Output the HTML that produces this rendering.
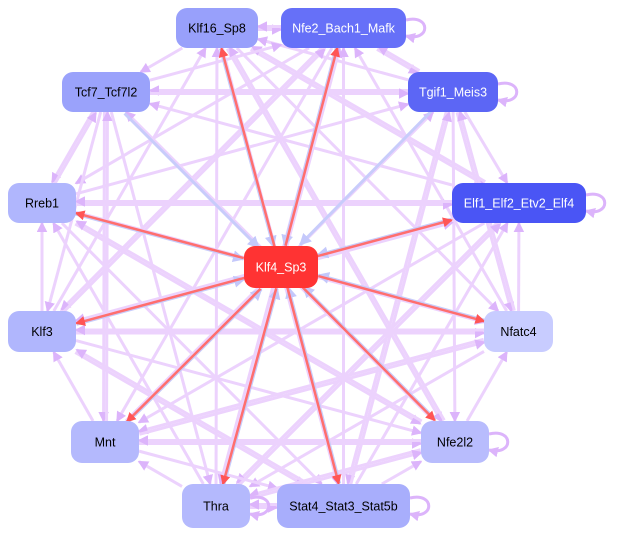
<!DOCTYPE html>
<html><head><meta charset="utf-8"><style>
html,body{margin:0;padding:0;background:#fff;}
svg{display:block;font-family:"Liberation Sans",sans-serif;}
</style></head><body>
<svg id="s" width="618" height="536" viewBox="0 0 618 536" xmlns="http://www.w3.org/2000/svg">
<defs>
<marker id="ap" markerWidth="3.5" markerHeight="3.5" refX="3" refY="1.75" orient="auto" markerUnits="strokeWidth"><path d="M0,0 L3.5,1.75 L0,3.5z" fill="#dcb4fb"/></marker>
<marker id="ar" markerWidth="4" markerHeight="4" refX="3.5" refY="2" orient="auto" markerUnits="strokeWidth"><path d="M0,0 L4,2 L0,4z" fill="#ff5555"/></marker>
<marker id="ab" markerWidth="4" markerHeight="4" refX="3.5" refY="2" orient="auto" markerUnits="strokeWidth"><path d="M0,0 L4,2 L0,4z" fill="#c4c8fb"/></marker>
</defs>
<g id="e"></g>
<g id="n"></g>
</svg>
<script>
var N=[
["Klf16_Sp8",176,8,82,40,"#98a0fb","#000"],
["Nfe2_Bach1_Mafk",281,8,125,40,"#6670f8","#fff"],
["Tgif1_Meis3",408,72,90,40,"#5c66f5","#fff"],
["Tcf7_Tcf7l2",62,72,88,40,"#9aa2fb","#000"],
["Rreb1",8,183,68,40,"#b0b6fd","#000"],
["Elf1_Elf2_Etv2_Elf4",452,183,134,40,"#4a55f5","#fff"],
["Klf3",8,311,68,41,"#b0b6fd","#000"],
["Nfatc4",484,311,69,41,"#c8ccff","#000"],
["Mnt",71,421,68,42,"#b4b9fd","#000"],
["Nfe2l2",421,421,68,42,"#b8bcfd","#000"],
["Thra",182,484,68,44,"#b4b9fd","#000"],
["Stat4_Stat3_Stat5b",277,484,133,44,"#a8aefc","#000"],
["Klf4_Sp3",244,246,74,42,"#ff3333","#fff"]];
var ns="http://www.w3.org/2000/svg",E=document.getElementById("e"),G=document.getElementById("n");
function c(i){var a=N[i];return [a[1]+a[3]/2,a[2]+a[4]/2];}
function clip(i,x,y,dx,dy){var a=N[i],hw=a[3]/2,hh=a[4]/2;var t=Math.min(Math.abs(dx)>0?hw/Math.abs(dx):1e9,Math.abs(dy)>0?hh/Math.abs(dy):1e9);return [x+dx*t,y+dy*t];}
function line(i,j,col,w,m,off){var p=c(i),q=c(j);var dx=q[0]-p[0],dy=q[1]-p[1],L=Math.hypot(dx,dy);var ox=-dy/L*off,oy=dx/L*off;
var s=clip(i,p[0],p[1],dx,dy),t=clip(j,q[0],q[1],-dx,-dy);
var l=document.createElementNS(ns,"line");l.setAttribute("x1",s[0]+ox);l.setAttribute("y1",s[1]+oy);l.setAttribute("x2",t[0]+ox);l.setAttribute("y2",t[1]+oy);
l.setAttribute("stroke",col);l.setAttribute("stroke-width",w);l.setAttribute("marker-end","url(#"+m+")");E.appendChild(l);}
var k=0;
for(var i=0;i<12;i++)for(var j=i+1;j<12;j++){k++;var d=(i*5+j*3)%4;
if(d==0)continue;
if(d==1){line(i,j,"#ecd2fd",3,"ap",0);}
else if(d==2){line(j,i,"#ecd2fd",3,"ap",0);}
else{line(i,j,"#ecd2fd",3,"ap",1.5);line(j,i,"#ecd2fd",3,"ap",1.5);}}
for(var i=0;i<12;i++){line(i,12,"#c8ccfb",3,"ab",2);if(i!=3&&i!=2)line(12,i,"#ff6e6e",2.5,"ar",-1);}
[[1,406,28],[2,498,92],[5,586,203],[9,489,442],[11,410,506],[10,250,506]].forEach(function(s){var p=document.createElementNS(ns,"path");p.setAttribute("d","M"+s[1]+","+(s[2]-8)+" C"+(s[1]+25)+","+(s[2]-14)+" "+(s[1]+25)+","+(s[2]+14)+" "+s[1]+","+(s[2]+8));p.setAttribute("fill","none");p.setAttribute("stroke","#dcb4fb");p.setAttribute("stroke-width","3");p.setAttribute("marker-end","url(#ap)");E.appendChild(p);});
N.forEach(function(a){var r=document.createElementNS(ns,"rect");r.setAttribute("x",a[1]);r.setAttribute("y",a[2]);r.setAttribute("width",a[3]);r.setAttribute("height",a[4]);r.setAttribute("rx",11);r.setAttribute("fill",a[5]);G.appendChild(r);
var t=document.createElementNS(ns,"text");t.setAttribute("x",a[1]+a[3]/2);t.setAttribute("y",a[2]+a[4]/2+4.5);t.setAttribute("text-anchor","middle");t.setAttribute("font-size","12.5");t.setAttribute("fill",a[6]);t.textContent=a[0];G.appendChild(t);});
</script>
</body></html>
